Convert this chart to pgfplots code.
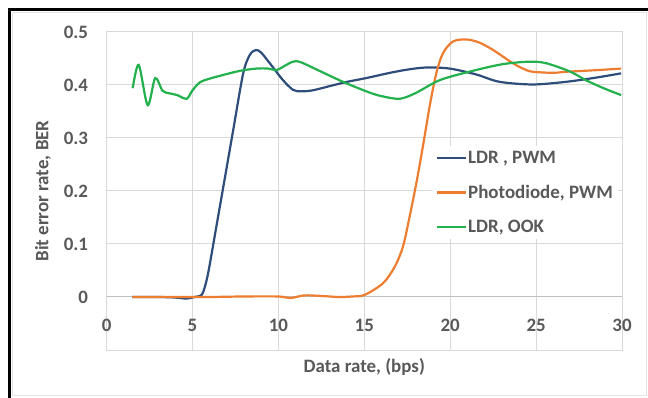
\documentclass[border=0pt]{standalone}
\usepackage{pgfplots}
\pgfplotsset{compat=1.18}
\usepackage{fontspec}
\setmainfont{Carlito}
\definecolor{txt}{HTML}{595959}
\definecolor{gridc}{HTML}{D9D9D9}
\definecolor{axc}{HTML}{BFBFBF}
\definecolor{cblue}{HTML}{2E4D7B}
\definecolor{corange}{HTML}{ED7D31}
\definecolor{cgreen}{HTML}{22B14C}
\begin{document}
\begin{tikzpicture}
\useasboundingbox (0bp,0bp) rectangle (648bp,398bp);
\fill[white] (0bp,0bp) rectangle (648bp,398bp);
\draw[gridc!70, line width=1bp] (12.5bp,2bp) rectangle (646.5bp,385.5bp);
\draw[black, line width=3bp] (9.5bp,0bp) -- (9.5bp,388.5bp) -- (648bp,388.5bp);
\begin{axis}[
  at={(106.6bp,48bp)}, anchor=south west,
  width=515.4bp, height=318bp, scale only axis,
  xmin=0, xmax=30, ymin=-0.1, ymax=0.5,
  xtick={0,5,10,15,20,25,30},
  ytick={0.1,0.2,0.3,0.4,0.5},
  extra y ticks={0},
  extra y tick style={grid=major, major grid style={axc, line width=1bp}},
  major tick length=0,
  axis line style={gridc, line width=1bp},
  grid=major, major grid style={gridc, line width=1bp},
  /pgf/number format/assume math mode=true,
  tick label style={font=\fontsize{19}{21}\selectfont\bfseries, text=txt},
  xticklabel style={anchor=center, yshift=25bp},
  yticklabel style={anchor=east, xshift=-15bp},
  label style={font=\fontsize{19}{21}\selectfont\bfseries, text=txt},
  xlabel={Data rate, (bps)},
  ylabel={Bit error rate, BER},
  xlabel style={at={(axis description cs:0.5,-0.0535)}, anchor=center},
  ylabel style={at={(axis description cs:-0.1234,0.5)}, anchor=center},
  legend cell align=left,
  legend image code/.code={\draw[#1] (0bp,0bp) -- (29bp,0bp);},
  legend style={at={(axis description cs:0.631,0.641)}, anchor=north west,
    draw=none, fill=white, font=\fontsize{19}{21}\selectfont\bfseries, text=txt,
    row sep=18bp, inner sep=4bp, nodes={inner sep=1bp}},
]
\addplot[cblue, line width=2.2bp, smooth, tension=0.5] coordinates {
(1.5,0)(3,0)(4.0,-0.001)(4.66,-0.003)(5.1,0.0)(5.43,0.002)(5.62,0.009)(5.91,0.045)(6.4,0.135)(6.88,0.224)(7.37,0.315)(7.95,0.422)(8.34,0.457)(8.69,0.466)(9.0,0.461)(9.5,0.441)(10.27,0.409)(10.85,0.391)(11.3,0.388)(12,0.39)(13,0.398)(14,0.406)(15.1,0.413)(16.5,0.423)(17.5,0.429)(18.6,0.433)(19.97,0.431)(21.5,0.42)(22.87,0.406)(24.8,0.401)(26.75,0.406)(28.5,0.414)(29.95,0.422)};
\addlegendentry{LDR , PWM}
\addplot[corange, line width=2.2bp, smooth, tension=0.5] coordinates {
(1.5,0)(4,0)(6,0)(8,0.001)(10,0.001)(10.7,-0.002)(11.5,0.003)(12.5,0.002)(13.5,0)(14.3,0.001)(15.02,0.004)(16.09,0.026)(16.77,0.057)(17.25,0.095)(17.64,0.152)(18.03,0.215)(18.41,0.284)(18.8,0.359)(19.19,0.422)(19.58,0.46)(20.16,0.482)(20.94,0.486)(21.7,0.48)(22.5,0.466)(23.65,0.441)(24.3,0.43)(24.8,0.425)(26,0.423)(26.75,0.425)(28.5,0.428)(29.95,0.431)};
\addlegendentry{Photodiode, PWM}
\addplot[cgreen, line width=2.2bp, smooth, tension=0.5] coordinates {
(1.52,0.394)(1.87,0.438)(2.39,0.362)(2.83,0.413)(3.26,0.389)(3.7,0.384)(4.11,0.381)(4.66,0.374)(5.0,0.39)(5.43,0.405)(6,0.412)(6.79,0.419)(7.8,0.427)(8.73,0.431)(9.4,0.431)(9.89,0.428)(10.3,0.435)(10.85,0.444)(11.3,0.443)(12.5,0.425)(13.76,0.406)(15.2,0.387)(16,0.379)(17.06,0.374)(18,0.385)(19.38,0.409)(21.1,0.425)(23,0.439)(24.6,0.444)(25.6,0.441)(27,0.425)(27.9,0.409)(29,0.393)(29.95,0.381)};
\addlegendentry{LDR, OOK}
\end{axis}
\end{tikzpicture}
\end{document}
